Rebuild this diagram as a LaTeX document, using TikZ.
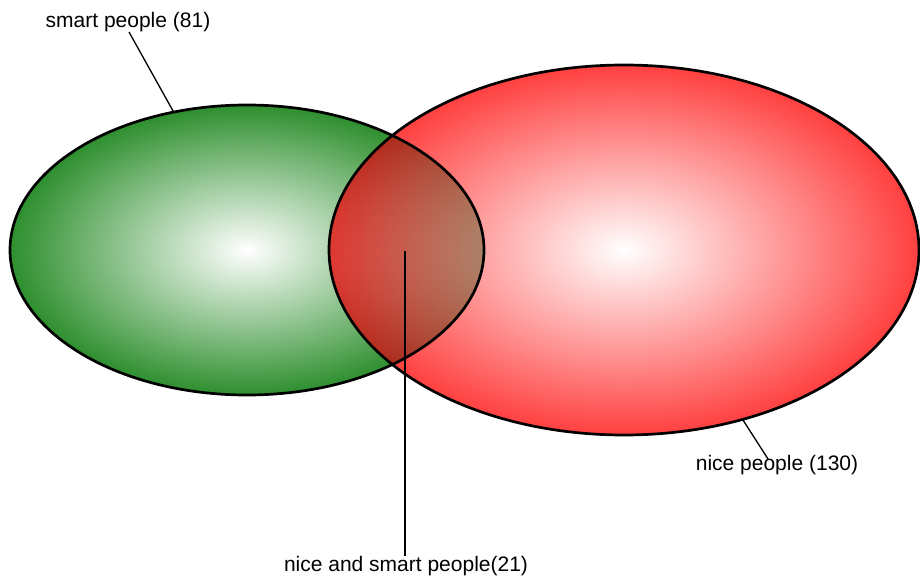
\documentclass[tikz,border=0pt]{standalone}
\usepackage{fontspec}
\setmainfont{Liberation Sans}
\usetikzlibrary{
  positioning,
  shapes.geometric,
}
\definecolor{smartGreen}{HTML}{2E8F2E}
\definecolor{niceRed}{HTML}{FF2626}
\definecolor{border}{HTML}{000000}
\tikzset{
  setfill/.style={
    ellipse, inner sep=0pt, shading=radial, inner color=white,
  },
  setline/.style={draw=border, line width=2.7pt},
  leader/.style={draw=border, line width=1.3pt},
  caption/.style={font=\fontsize{21}{25}\selectfont, inner sep=0pt},
}

\begin{document}
\begin{tikzpicture}[x=1pt, y=-1pt]

  \useasboundingbox[fill=white] (0,0) rectangle (920,578);

  % Sets
  \node[setfill, outer color=smartGreen, minimum width=474pt, minimum height=290pt] (smart) at (247,250) {};
  \node[setfill, outer color=niceRed, fill opacity=0.88, minimum width=590pt, minimum height=370pt] (nice) at (624,250) {};
  % darker overlap
  \begin{scope}[blend mode=multiply]
    \clip (nice.center) ellipse [x radius=295pt, y radius=185pt];
    \node[setfill, outer color=smartGreen, fill opacity=0.3, minimum width=474pt, minimum height=290pt] (overlap) at (smart.center) {};
  \end{scope}
  \draw[setline] (smart.center) ellipse [x radius=237pt, y radius=145pt];
  \draw[setline] (nice.center) ellipse [x radius=295pt, y radius=185pt];

  % Labels
  \node[caption] (smartlbl) at (128,22) {smart people (81)};
  \node[caption] (nicelbl) at (777,465) {nice people (130)};
  \node[caption] (bothlbl) at (406,566) {nice and smart people(21)};
  \coordinate (smarttip) at (129,32);
  \coordinate (nicetip) at (768,459);
  \coordinate (both) at (405,251);

  \draw[leader] (smarttip) -- (smart.118);
  \draw[leader] (nicetip) -- (nice.-55);
  \draw[leader] (bothlbl.north -| both) -- (both);

\end{tikzpicture}
\end{document}
